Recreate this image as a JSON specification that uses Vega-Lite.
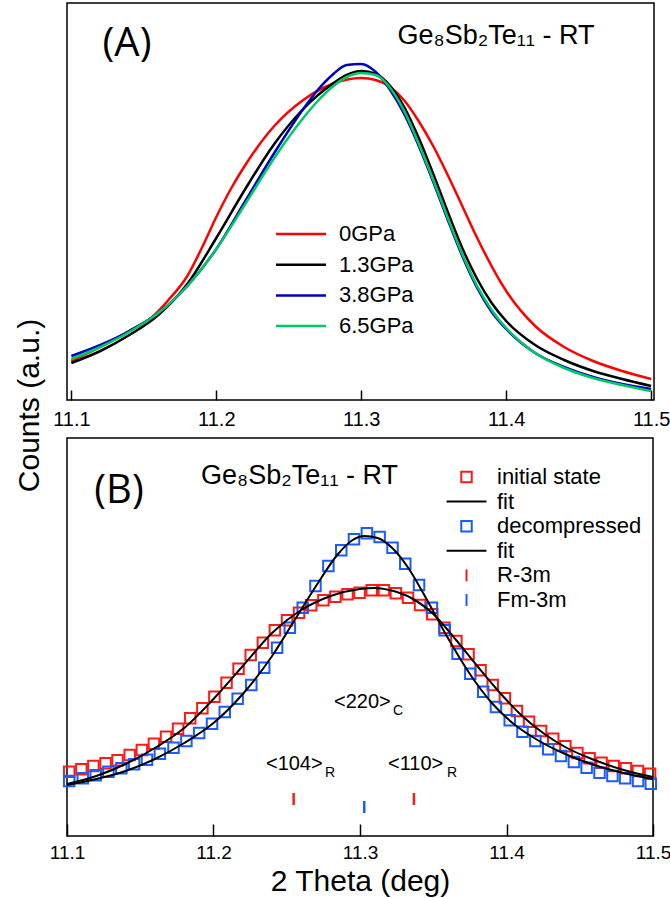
{
  "$schema": "https://vega.github.io/schema/vega-lite/v6.json",
  "padding": {"left": 13, "top": 2, "right": 0, "bottom": 5},
  "spacing": 38,
  "bounds": "flush",
  "resolve": {"scale": {"color": "independent", "shape": "independent", "stroke": "independent"}, "legend": {"color": "independent", "shape": "independent", "stroke": "independent"}},
  "config": {
    "view": {"stroke": "black", "strokeWidth": 1.5},
    "font": "Liberation Sans",
    "axis": {"grid": false, "domain": false, "labelFont": "Liberation Sans", "titleFont": "Liberation Sans", "labelColor": "black", "titleColor": "black", "titleFontWeight": "normal"},
    "legend": {"labelFont": "Liberation Sans", "labelColor": "black"}
  },
  "datasets": {
    "pressure": [
      {"p": "0GPa", "x": 11.10, "v": 39}, {"p": "0GPa", "x": 11.12, "v": 53}, {"p": "0GPa", "x": 11.14, "v": 69}, {"p": "0GPa", "x": 11.155, "v": 82}, {"p": "0GPa", "x": 11.167, "v": 100}, {"p": "0GPa", "x": 11.18, "v": 124}, {"p": "0GPa", "x": 11.19, "v": 152}, {"p": "0GPa", "x": 11.20, "v": 183}, {"p": "0GPa", "x": 11.21, "v": 211}, {"p": "0GPa", "x": 11.22, "v": 235}, {"p": "0GPa", "x": 11.24, "v": 274}, {"p": "0GPa", "x": 11.26, "v": 300}, {"p": "0GPa", "x": 11.28, "v": 316}, {"p": "0GPa", "x": 11.30, "v": 322}, {"p": "0GPa", "x": 11.31, "v": 320}, {"p": "0GPa", "x": 11.32, "v": 313}, {"p": "0GPa", "x": 11.33, "v": 299}, {"p": "0GPa", "x": 11.34, "v": 278}, {"p": "0GPa", "x": 11.35, "v": 253}, {"p": "0GPa", "x": 11.36, "v": 224}, {"p": "0GPa", "x": 11.37, "v": 193}, {"p": "0GPa", "x": 11.38, "v": 162}, {"p": "0GPa", "x": 11.40, "v": 109}, {"p": "0GPa", "x": 11.42, "v": 74}, {"p": "0GPa", "x": 11.44, "v": 53}, {"p": "0GPa", "x": 11.46, "v": 39}, {"p": "0GPa", "x": 11.48, "v": 29}, {"p": "0GPa", "x": 11.50, "v": 21},
      {"p": "1.3GPa", "x": 11.10, "v": 37}, {"p": "1.3GPa", "x": 11.12, "v": 49}, {"p": "1.3GPa", "x": 11.14, "v": 65}, {"p": "1.3GPa", "x": 11.16, "v": 85}, {"p": "1.3GPa", "x": 11.18, "v": 116}, {"p": "1.3GPa", "x": 11.20, "v": 162}, {"p": "1.3GPa", "x": 11.22, "v": 211}, {"p": "1.3GPa", "x": 11.24, "v": 256}, {"p": "1.3GPa", "x": 11.26, "v": 291}, {"p": "1.3GPa", "x": 11.28, "v": 316}, {"p": "1.3GPa", "x": 11.29, "v": 325}, {"p": "1.3GPa", "x": 11.30, "v": 329}, {"p": "1.3GPa", "x": 11.31, "v": 326}, {"p": "1.3GPa", "x": 11.32, "v": 314}, {"p": "1.3GPa", "x": 11.33, "v": 292}, {"p": "1.3GPa", "x": 11.34, "v": 261}, {"p": "1.3GPa", "x": 11.35, "v": 225}, {"p": "1.3GPa", "x": 11.36, "v": 187}, {"p": "1.3GPa", "x": 11.37, "v": 151}, {"p": "1.3GPa", "x": 11.38, "v": 121}, {"p": "1.3GPa", "x": 11.39, "v": 97}, {"p": "1.3GPa", "x": 11.40, "v": 79}, {"p": "1.3GPa", "x": 11.42, "v": 55}, {"p": "1.3GPa", "x": 11.44, "v": 40}, {"p": "1.3GPa", "x": 11.46, "v": 29}, {"p": "1.3GPa", "x": 11.48, "v": 21}, {"p": "1.3GPa", "x": 11.50, "v": 14},
      {"p": "3.8GPa", "x": 11.10, "v": 44}, {"p": "3.8GPa", "x": 11.12, "v": 55}, {"p": "3.8GPa", "x": 11.14, "v": 69}, {"p": "3.8GPa", "x": 11.16, "v": 87}, {"p": "3.8GPa", "x": 11.18, "v": 114}, {"p": "3.8GPa", "x": 11.20, "v": 151}, {"p": "3.8GPa", "x": 11.22, "v": 199}, {"p": "3.8GPa", "x": 11.24, "v": 247}, {"p": "3.8GPa", "x": 11.26, "v": 291}, {"p": "3.8GPa", "x": 11.27, "v": 310}, {"p": "3.8GPa", "x": 11.28, "v": 325}, {"p": "3.8GPa", "x": 11.29, "v": 335}, {"p": "3.8GPa", "x": 11.30, "v": 336}, {"p": "3.8GPa", "x": 11.31, "v": 328}, {"p": "3.8GPa", "x": 11.32, "v": 310}, {"p": "3.8GPa", "x": 11.33, "v": 285}, {"p": "3.8GPa", "x": 11.34, "v": 253}, {"p": "3.8GPa", "x": 11.35, "v": 217}, {"p": "3.8GPa", "x": 11.36, "v": 179}, {"p": "3.8GPa", "x": 11.37, "v": 143}, {"p": "3.8GPa", "x": 11.38, "v": 112}, {"p": "3.8GPa", "x": 11.39, "v": 88}, {"p": "3.8GPa", "x": 11.40, "v": 71}, {"p": "3.8GPa", "x": 11.42, "v": 47}, {"p": "3.8GPa", "x": 11.44, "v": 33}, {"p": "3.8GPa", "x": 11.46, "v": 23}, {"p": "3.8GPa", "x": 11.48, "v": 16}, {"p": "3.8GPa", "x": 11.50, "v": 11},
      {"p": "6.5GPa", "x": 11.10, "v": 41}, {"p": "6.5GPa", "x": 11.12, "v": 53}, {"p": "6.5GPa", "x": 11.14, "v": 68}, {"p": "6.5GPa", "x": 11.16, "v": 87}, {"p": "6.5GPa", "x": 11.18, "v": 114}, {"p": "6.5GPa", "x": 11.20, "v": 151}, {"p": "6.5GPa", "x": 11.22, "v": 196}, {"p": "6.5GPa", "x": 11.24, "v": 242}, {"p": "6.5GPa", "x": 11.26, "v": 282}, {"p": "6.5GPa", "x": 11.27, "v": 299}, {"p": "6.5GPa", "x": 11.28, "v": 313}, {"p": "6.5GPa", "x": 11.29, "v": 323}, {"p": "6.5GPa", "x": 11.30, "v": 327}, {"p": "6.5GPa", "x": 11.31, "v": 325}, {"p": "6.5GPa", "x": 11.32, "v": 312}, {"p": "6.5GPa", "x": 11.33, "v": 288}, {"p": "6.5GPa", "x": 11.34, "v": 255}, {"p": "6.5GPa", "x": 11.35, "v": 219}, {"p": "6.5GPa", "x": 11.36, "v": 181}, {"p": "6.5GPa", "x": 11.37, "v": 145}, {"p": "6.5GPa", "x": 11.38, "v": 114}, {"p": "6.5GPa", "x": 11.39, "v": 90}, {"p": "6.5GPa", "x": 11.40, "v": 72}, {"p": "6.5GPa", "x": 11.42, "v": 47}, {"p": "6.5GPa", "x": 11.44, "v": 32}, {"p": "6.5GPa", "x": 11.46, "v": 22}, {"p": "6.5GPa", "x": 11.48, "v": 15}, {"p": "6.5GPa", "x": 11.50, "v": 9}
    ],
    "measured": [
      {"series": "initial state", "x": 11.1015, "v": 64.3}, {"series": "initial state", "x": 11.1098, "v": 66.7}, {"series": "initial state", "x": 11.1180, "v": 70.0}, {"series": "initial state", "x": 11.1263, "v": 72.7}, {"series": "initial state", "x": 11.1345, "v": 75.7}, {"series": "initial state", "x": 11.1428, "v": 81.0}, {"series": "initial state", "x": 11.1511, "v": 86.0}, {"series": "initial state", "x": 11.1593, "v": 92.3}, {"series": "initial state", "x": 11.1676, "v": 99.3}, {"series": "initial state", "x": 11.1758, "v": 107.3}, {"series": "initial state", "x": 11.1841, "v": 117.7}, {"series": "initial state", "x": 11.1924, "v": 127.7}, {"series": "initial state", "x": 11.2006, "v": 139.3}, {"series": "initial state", "x": 11.2089, "v": 153.3}, {"series": "initial state", "x": 11.2171, "v": 167.3}, {"series": "initial state", "x": 11.2254, "v": 181.0}, {"series": "initial state", "x": 11.2337, "v": 193.3}, {"series": "initial state", "x": 11.2419, "v": 205.7}, {"series": "initial state", "x": 11.2502, "v": 215.7}, {"series": "initial state", "x": 11.2584, "v": 223.3}, {"series": "initial state", "x": 11.2667, "v": 230.7}, {"series": "initial state", "x": 11.2750, "v": 235.7}, {"series": "initial state", "x": 11.2832, "v": 239.3}, {"series": "initial state", "x": 11.2915, "v": 241.7}, {"series": "initial state", "x": 11.2997, "v": 243.3}, {"series": "initial state", "x": 11.3080, "v": 245.7}, {"series": "initial state", "x": 11.3163, "v": 245.7}, {"series": "initial state", "x": 11.3245, "v": 242.7}, {"series": "initial state", "x": 11.3328, "v": 238.3}, {"series": "initial state", "x": 11.3410, "v": 231.0}, {"series": "initial state", "x": 11.3493, "v": 221.7}, {"series": "initial state", "x": 11.3576, "v": 208.3}, {"series": "initial state", "x": 11.3658, "v": 195.0}, {"series": "initial state", "x": 11.3741, "v": 181.7}, {"series": "initial state", "x": 11.3823, "v": 165.7}, {"series": "initial state", "x": 11.3906, "v": 151.0}, {"series": "initial state", "x": 11.3989, "v": 137.7}, {"series": "initial state", "x": 11.4071, "v": 125.0}, {"series": "initial state", "x": 11.4154, "v": 114.3}, {"series": "initial state", "x": 11.4236, "v": 105.0}, {"series": "initial state", "x": 11.4319, "v": 97.3}, {"series": "initial state", "x": 11.4402, "v": 89.7}, {"series": "initial state", "x": 11.4484, "v": 83.0}, {"series": "initial state", "x": 11.4567, "v": 77.7}, {"series": "initial state", "x": 11.4649, "v": 73.3}, {"series": "initial state", "x": 11.4732, "v": 70.0}, {"series": "initial state", "x": 11.4815, "v": 67.7}, {"series": "initial state", "x": 11.4897, "v": 65.0}, {"series": "initial state", "x": 11.4980, "v": 62.3},
      {"series": "decompressed", "x": 11.1015, "v": 55.0}, {"series": "decompressed", "x": 11.1108, "v": 57.7}, {"series": "decompressed", "x": 11.1196, "v": 60.7}, {"series": "decompressed", "x": 11.1283, "v": 64.3}, {"series": "decompressed", "x": 11.1371, "v": 67.7}, {"series": "decompressed", "x": 11.1458, "v": 71.7}, {"series": "decompressed", "x": 11.1546, "v": 76.3}, {"series": "decompressed", "x": 11.1634, "v": 82.3}, {"series": "decompressed", "x": 11.1727, "v": 88.3}, {"series": "decompressed", "x": 11.1815, "v": 95.0}, {"series": "decompressed", "x": 11.1902, "v": 103.0}, {"series": "decompressed", "x": 11.1990, "v": 112.3}, {"series": "decompressed", "x": 11.2077, "v": 124.0}, {"series": "decompressed", "x": 11.2165, "v": 137.3}, {"series": "decompressed", "x": 11.2258, "v": 151.0}, {"series": "decompressed", "x": 11.2346, "v": 168.3}, {"series": "decompressed", "x": 11.2434, "v": 188.3}, {"series": "decompressed", "x": 11.2521, "v": 208.3}, {"series": "decompressed", "x": 11.2609, "v": 228.3}, {"series": "decompressed", "x": 11.2696, "v": 250.0}, {"series": "decompressed", "x": 11.2784, "v": 270.0}, {"series": "decompressed", "x": 11.2872, "v": 285.7}, {"series": "decompressed", "x": 11.2959, "v": 296.7}, {"series": "decompressed", "x": 11.3047, "v": 302.7}, {"series": "decompressed", "x": 11.3134, "v": 299.0}, {"series": "decompressed", "x": 11.3222, "v": 288.3}, {"series": "decompressed", "x": 11.3309, "v": 272.3}, {"series": "decompressed", "x": 11.3403, "v": 251.0}, {"series": "decompressed", "x": 11.3491, "v": 228.3}, {"series": "decompressed", "x": 11.3578, "v": 205.7}, {"series": "decompressed", "x": 11.3666, "v": 182.3}, {"series": "decompressed", "x": 11.3753, "v": 162.3}, {"series": "decompressed", "x": 11.3841, "v": 144.3}, {"series": "decompressed", "x": 11.3928, "v": 129.0}, {"series": "decompressed", "x": 11.4022, "v": 115.7}, {"series": "decompressed", "x": 11.4109, "v": 104.3}, {"series": "decompressed", "x": 11.4197, "v": 95.0}, {"series": "decompressed", "x": 11.4285, "v": 86.7}, {"series": "decompressed", "x": 11.4372, "v": 80.0}, {"series": "decompressed", "x": 11.4460, "v": 74.0}, {"series": "decompressed", "x": 11.4547, "v": 68.3}, {"series": "decompressed", "x": 11.4635, "v": 63.3}, {"series": "decompressed", "x": 11.4723, "v": 60.0}, {"series": "decompressed", "x": 11.4810, "v": 57.7}, {"series": "decompressed", "x": 11.4898, "v": 55.0}, {"series": "decompressed", "x": 11.4985, "v": 52.3}
    ],
    "fits": [
      {"series": "fit1", "x": 11.100, "v": 52}, {"series": "fit1", "x": 11.120, "v": 60}, {"series": "fit1", "x": 11.140, "v": 72}, {"series": "fit1", "x": 11.160, "v": 88}, {"series": "fit1", "x": 11.180, "v": 108}, {"series": "fit1", "x": 11.200, "v": 137}, {"series": "fit1", "x": 11.220, "v": 170}, {"series": "fit1", "x": 11.240, "v": 203}, {"series": "fit1", "x": 11.260, "v": 226}, {"series": "fit1", "x": 11.280, "v": 240}, {"series": "fit1", "x": 11.300, "v": 247}, {"series": "fit1", "x": 11.310, "v": 248}, {"series": "fit1", "x": 11.320, "v": 246}, {"series": "fit1", "x": 11.335, "v": 238}, {"series": "fit1", "x": 11.350, "v": 222}, {"series": "fit1", "x": 11.365, "v": 197}, {"series": "fit1", "x": 11.380, "v": 170}, {"series": "fit1", "x": 11.395, "v": 144}, {"series": "fit1", "x": 11.410, "v": 121}, {"series": "fit1", "x": 11.425, "v": 103}, {"series": "fit1", "x": 11.440, "v": 89}, {"series": "fit1", "x": 11.460, "v": 76}, {"series": "fit1", "x": 11.480, "v": 66}, {"series": "fit1", "x": 11.500, "v": 59},
      {"series": "fit2", "x": 11.100, "v": 51}, {"series": "fit2", "x": 11.120, "v": 57}, {"series": "fit2", "x": 11.140, "v": 65}, {"series": "fit2", "x": 11.160, "v": 77}, {"series": "fit2", "x": 11.180, "v": 93}, {"series": "fit2", "x": 11.200, "v": 113}, {"series": "fit2", "x": 11.220, "v": 142}, {"series": "fit2", "x": 11.240, "v": 180}, {"series": "fit2", "x": 11.255, "v": 215}, {"series": "fit2", "x": 11.270, "v": 250}, {"series": "fit2", "x": 11.285, "v": 282}, {"series": "fit2", "x": 11.295, "v": 296}, {"series": "fit2", "x": 11.303, "v": 300}, {"series": "fit2", "x": 11.312, "v": 298}, {"series": "fit2", "x": 11.322, "v": 288}, {"series": "fit2", "x": 11.333, "v": 268}, {"series": "fit2", "x": 11.345, "v": 238}, {"series": "fit2", "x": 11.360, "v": 198}, {"series": "fit2", "x": 11.375, "v": 162}, {"series": "fit2", "x": 11.390, "v": 133}, {"series": "fit2", "x": 11.405, "v": 112}, {"series": "fit2", "x": 11.420, "v": 97}, {"series": "fit2", "x": 11.440, "v": 82}, {"series": "fit2", "x": 11.460, "v": 71}, {"series": "fit2", "x": 11.480, "v": 63}, {"series": "fit2", "x": 11.500, "v": 57}
    ],
    "reflections": [
      {"series": "R-3m", "x": 11.2547, "v": 37},
      {"series": "R-3m", "x": 11.3368, "v": 37},
      {"series": "Fm-3m", "x": 11.3029, "v": 29}
    ],
    "hkl": [
      {"t": "<220>", "s": "C", "x": 11.2823, "v": 128},
      {"t": "<104>", "s": "R", "x": 11.2358, "v": 66},
      {"t": "<110>", "s": "R", "x": 11.3191, "v": 66}
    ],
    "panelA": [{"tag": "(A)", "x": 11.1384, "v": 356, "formula": "Ge\u2088Sb\u2082Te\u2081\u2081 - RT", "fx": 11.325, "fv": 356}],
    "panelB": [{"tag": "(B)", "x": 11.1355, "v": 345, "formula": "Ge\u2088Sb\u2082Te\u2081\u2081 - RT", "fx": 11.1915, "fv": 352}]
  },
  "vconcat": [
    {
      "width": 587,
      "height": 397,
      "layer": [
        {
          "data": {"name": "pressure"},
          "mark": {"type": "line", "interpolate": "monotone", "strokeWidth": 2.5},
          "encoding": {
            "x": {"field": "x", "type": "quantitative", "scale": {"domain": [11.097, 11.502], "nice": false, "zero": false},
              "axis": {"values": [11.1, 11.2, 11.3, 11.4, 11.5], "format": ".1f", "title": null, "tickSize": -10, "tickWidth": 1.5, "tickColor": "black", "labelFontSize": 20, "labelPadding": 19, "labelFlush": false}},
            "y": {"field": "v", "type": "quantitative", "scale": {"domain": [0, 397], "nice": false, "zero": false},
              "axis": {"title": "Counts (a.u.)", "labels": false, "ticks": false, "titleFontSize": 30, "titleAngle": -90, "titleAlign": "center", "titleBaseline": "middle", "titleX": -38, "titleY": 402}},
            "color": {"field": "p", "type": "nominal",
              "scale": {"domain": ["0GPa", "1.3GPa", "3.8GPa", "6.5GPa"], "range": ["#ff0000", "#000000", "#0000c0", "#00c864"]},
              "legend": {"title": null, "orient": "none", "legendX": 223, "legendY": 220, "padding": 0, "symbolType": "M-5,0L5,0", "symbolSize": 100, "symbolStrokeWidth": 2.5, "labelFontSize": 22, "labelOffset": 27, "rowPadding": 8.7}}
          }
        },
        {
          "data": {"name": "panelA"},
          "mark": {"type": "text", "font": "Open Sans", "fontSize": 40, "align": "center", "baseline": "middle", "color": "black"},
          "encoding": {"x": {"field": "x", "type": "quantitative"}, "y": {"field": "v", "type": "quantitative"}, "text": {"field": "tag"}}
        },
        {
          "data": {"name": "panelA"},
          "mark": {"type": "text", "fontSize": 27, "align": "left", "baseline": "alphabetic", "color": "black"},
          "encoding": {"x": {"field": "fx", "type": "quantitative"}, "y": {"field": "fv", "type": "quantitative"}, "text": {"field": "formula"}}
        }
      ]
    },
    {
      "width": 586,
      "height": 398,
      "layer": [
        {
          "data": {"name": "measured"},
          "mark": {"type": "point", "filled": false, "size": 110, "strokeWidth": 2, "opacity": 1},
          "encoding": {
            "x": {"field": "x", "type": "quantitative", "scale": {"domain": [11.1, 11.5], "nice": false, "zero": false},
              "axis": {"values": [11.1, 11.2, 11.3, 11.4, 11.5], "format": ".1f", "title": "2 Theta (deg)", "titleFontSize": 30, "titlePadding": 4, "tickSize": -12, "tickWidth": 1.5, "tickColor": "black", "labelFontSize": 19, "labelPadding": 19, "labelFlush": false}},
            "y": {"field": "v", "type": "quantitative", "scale": {"domain": [0, 398], "nice": false, "zero": false}, "axis": null},
            "stroke": {"field": "series", "type": "nominal",
              "scale": {"domain": ["initial state", "fit1", "decompressed", "fit2", "R-3m", "Fm-3m"], "range": ["#ff1a1a", "#000000", "#1a5cff", "#000000", "#ff1a1a", "#1a5cff"]},
              "legend": {"title": null, "orient": "none", "legendX": 388.5, "legendY": 28, "padding": 0, "symbolSize": 110, "symbolStrokeWidth": 2, "symbolFillColor": "transparent", "labelFontSize": 22, "labelOffset": 19.5, "rowPadding": 2.6, "labelExpr": "indexof(datum.label, 'fit') == 0 ? 'fit' : datum.label"}},
            "shape": {"field": "series", "type": "nominal",
              "scale": {"domain": ["initial state", "fit1", "decompressed", "fit2", "R-3m", "Fm-3m"], "range": ["square", "M-3.8,0L3.8,0", "square", "M-3.8,0L3.8,0", "M0,-1.15L0,1.15", "M0,-1.15L0,1.15"]},
              "legend": {"title": null, "orient": "none", "legendX": 388.5, "legendY": 28, "padding": 0, "symbolSize": 110, "symbolStrokeWidth": 2, "symbolFillColor": "transparent", "labelFontSize": 22, "labelOffset": 19.5, "rowPadding": 2.6, "labelExpr": "indexof(datum.label, 'fit') == 0 ? 'fit' : datum.label"}}
          }
        },
        {
          "data": {"name": "fits"},
          "mark": {"type": "line", "interpolate": "monotone", "strokeWidth": 2},
          "encoding": {
            "x": {"field": "x", "type": "quantitative"},
            "y": {"field": "v", "type": "quantitative"},
            "stroke": {"field": "series", "type": "nominal", "legend": null},
            "detail": {"field": "series"}
          }
        },
        {
          "data": {"name": "reflections"},
          "mark": {"type": "tick", "orient": "vertical", "size": 12, "thickness": 2.5, "opacity": 1},
          "encoding": {
            "x": {"field": "x", "type": "quantitative"},
            "y": {"field": "v", "type": "quantitative"},
            "color": {"field": "series", "type": "nominal", "legend": null,
              "scale": {"domain": ["R-3m", "Fm-3m"], "range": ["#ff1a1a", "#1a5cff"]}}
          }
        },
        {
          "data": {"name": "hkl"},
          "mark": {"type": "text", "fontSize": 20, "align": "left", "baseline": "alphabetic", "color": "black"},
          "encoding": {"x": {"field": "x", "type": "quantitative"}, "y": {"field": "v", "type": "quantitative"}, "text": {"field": "t"}}
        },
        {
          "data": {"name": "hkl"},
          "mark": {"type": "text", "fontSize": 14, "align": "left", "baseline": "alphabetic", "dx": 59, "dy": 7, "color": "black"},
          "encoding": {"x": {"field": "x", "type": "quantitative"}, "y": {"field": "v", "type": "quantitative"}, "text": {"field": "s"}}
        },
        {
          "data": {"name": "panelB"},
          "mark": {"type": "text", "font": "Open Sans", "fontSize": 40, "align": "center", "baseline": "middle", "color": "black"},
          "encoding": {"x": {"field": "x", "type": "quantitative"}, "y": {"field": "v", "type": "quantitative"}, "text": {"field": "tag"}}
        },
        {
          "data": {"name": "panelB"},
          "mark": {"type": "text", "fontSize": 27, "align": "left", "baseline": "alphabetic", "color": "black"},
          "encoding": {"x": {"field": "fx", "type": "quantitative"}, "y": {"field": "fv", "type": "quantitative"}, "text": {"field": "formula"}}
        }
      ]
    }
  ]
}
